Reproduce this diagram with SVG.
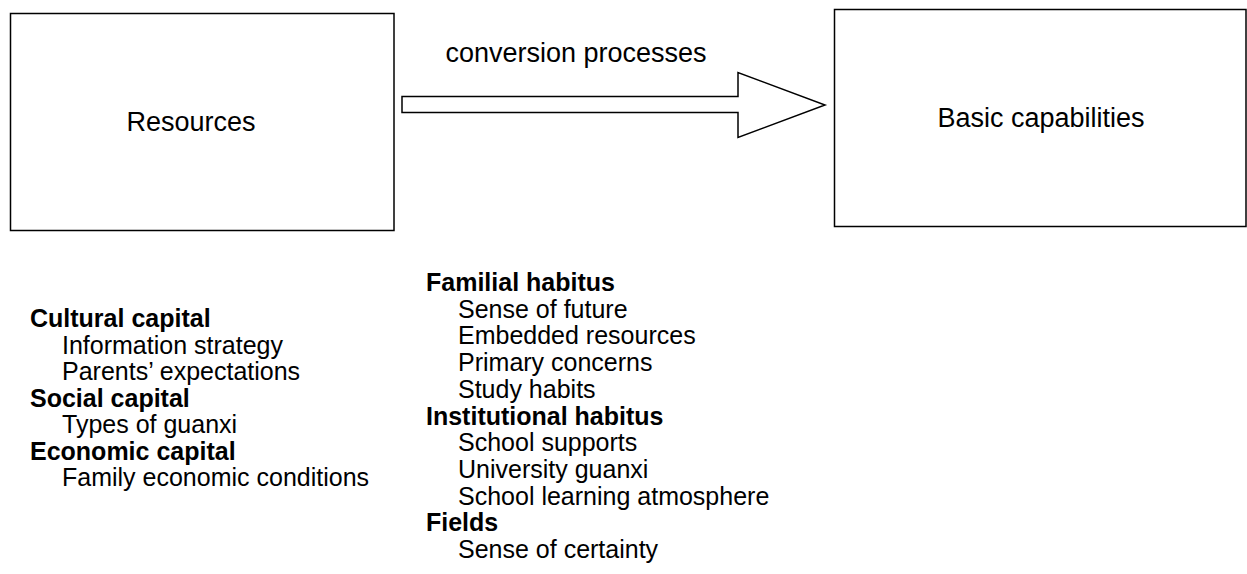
<svg xmlns="http://www.w3.org/2000/svg" width="1247" height="574" viewBox="0 0 1247 574">
  <style>
    text { font-family: "Liberation Sans", Arial, Helvetica, sans-serif; fill: #000; }
    .box { fill: #fff; stroke: #000; stroke-width: 1.5; }
    .big { font-size: 27px; }
    .list { font-size: 25px; }
    .head { font-weight: bold; }
  </style>
  <rect x="0" y="0" width="1247" height="574" fill="#fff"/>

  <g id="resources">
    <rect class="box" x="10.5" y="13.5" width="383.5" height="217"/>
    <text class="big" x="191" y="131" text-anchor="middle">Resources</text>
  </g>

  <g id="basic-capabilities">
    <rect class="box" x="834.5" y="9.5" width="411.5" height="217"/>
    <text class="big" x="1041" y="127" text-anchor="middle">Basic capabilities</text>
  </g>

  <g id="connectors">
    <path class="box" d="M402,96.5 H738 V72.5 L825,105 L738,137.5 V112.5 H402 Z"/>
    <text class="big" x="576" y="62" text-anchor="middle">conversion processes</text>
  </g>

  <g id="resource-types">
    <text class="list head" x="30" y="327">Cultural capital</text>
    <text class="list" x="62" y="353.5">Information strategy</text>
    <text class="list" x="62" y="380">Parents’ expectations</text>
    <text class="list head" x="30" y="406.5">Social capital</text>
    <text class="list" x="62" y="433">Types of guanxi</text>
    <text class="list head" x="30" y="459.5">Economic capital</text>
    <text class="list" x="62" y="486">Family economic conditions</text>
  </g>

  <g id="conversion-factors">
    <text class="list head" x="426" y="291">Familial habitus</text>
    <text class="list" x="458" y="317.7">Sense of future</text>
    <text class="list" x="458" y="344.4">Embedded resources</text>
    <text class="list" x="458" y="371.1">Primary concerns</text>
    <text class="list" x="458" y="397.8">Study habits</text>
    <text class="list head" x="426" y="424.5">Institutional habitus</text>
    <text class="list" x="458" y="451.2">School supports</text>
    <text class="list" x="458" y="477.9">University guanxi</text>
    <text class="list" x="458" y="504.6">School learning atmosphere</text>
    <text class="list head" x="426" y="531.3">Fields</text>
    <text class="list" x="458" y="558">Sense of certainty</text>
  </g>
</svg>
